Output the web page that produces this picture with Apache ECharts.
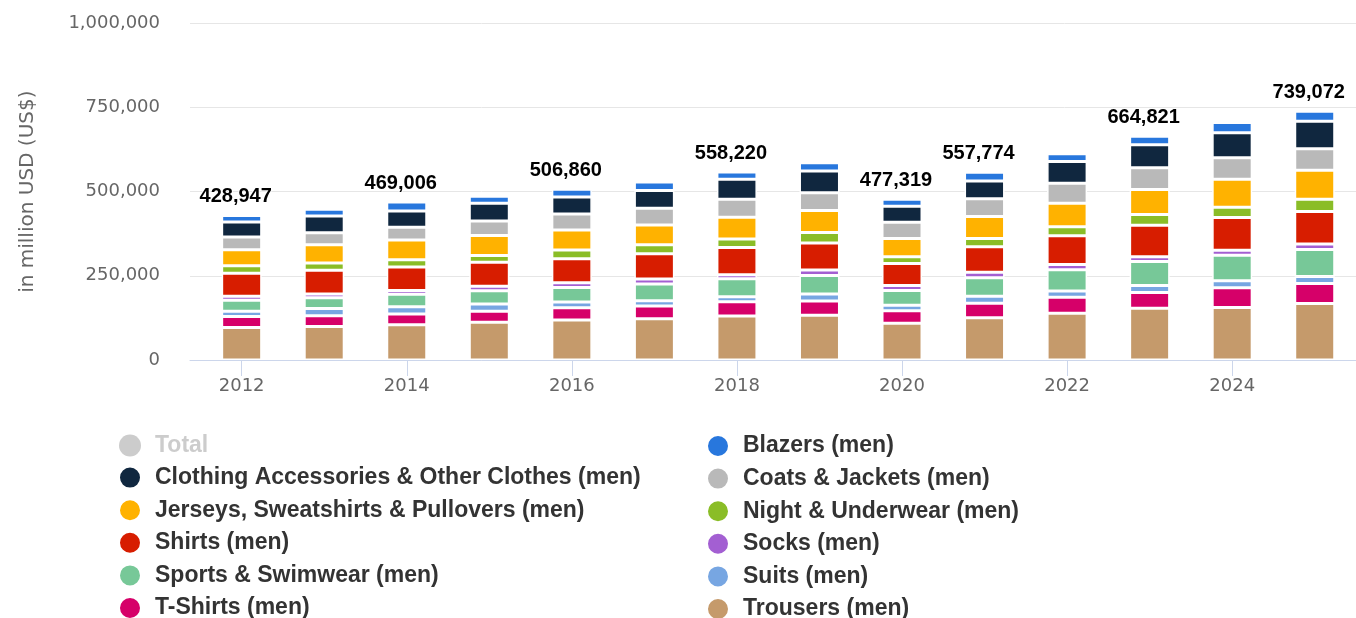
<!DOCTYPE html>
<html>
<head>
<meta charset="utf-8">
<script src="https://cdn.jsdelivr.net/npm/echarts@6/dist/echarts.min.js"></script>
<style>
  html, body { margin: 0; padding: 0; background: #fff; }
  #chart { width: 1356px; height: 618px; }
</style>
</head>
<body>
<div id="chart"></div>
<script>
// Men's apparel revenue by segment, in million USD
const years = ['2012', '2013', '2014', '2015', '2016', '2017', '2018', '2019', '2020', '2021', '2022', '2023', '2024', '2025'];
const labelledYears = ['2012', '2014', '2016', '2018', '2020', '2021', '2023', '2025'];
const yTicks = [0, 250000, 500000, 750000, 1000000];

const blazers  = [19100, 19800, 26800, 20800, 22900, 25700, 21200, 24800, 20800, 25800, 23300, 25800, 30300, 29800];
const clothing = [44300, 49600, 47600, 52700, 50300, 52800, 59300, 64600, 47300, 53300, 64200, 68200, 74200, 81700];
const coats    = [38300, 36200, 38100, 42800, 47200, 49600, 53800, 52700, 48700, 52600, 59700, 64300, 64200, 64200];
const jerseys  = [47300, 53800, 58400, 59600, 59800, 58300, 64300, 65300, 53800, 65200, 69800, 74200, 82700, 85700];
const night    = [22200, 21300, 21600, 20300, 25700, 26600, 25400, 31200, 20400, 24800, 26900, 32300, 30800, 36300];
const shirts   = [68500, 70900, 70200, 71400, 71600, 75400, 80800, 79800, 65300, 75700, 85200, 93200, 96700, 97200];
const socks    = [12100, 11400, 11000, 12800, 13800, 14700, 12100, 16600, 14800, 16300, 15300, 14400, 15400, 16300];
const sports   = [32200, 31700, 36900, 39300, 43300, 49500, 53400, 54800, 43400, 54600, 63700, 70800, 75200, 79700];
const suits    = [16100, 21200, 21900, 21800, 17100, 15600, 15200, 20700, 16300, 20800, 18200, 21300, 21400, 20900];
const tshirts  = [32200, 32300, 32100, 32600, 36400, 37900, 41900, 42300, 37300, 43200, 47800, 46900, 58700, 59300];
const trousers = [96647, 99400, 104406, 112200, 118760, 122800, 130820, 133100, 109219, 125474, 138600, 153421, 155600, 167972];

// stacking order, bottom to top
const segments = [
  { name: 'Trousers (men)', values: trousers, color: '#c59a6b' },
  { name: 'T-Shirts (men)', values: tshirts, color: '#d60069' },
  { name: 'Suits (men)', values: suits, color: '#77a6e2' },
  { name: 'Sports & Swimwear (men)', values: sports, color: '#77c898' },
  { name: 'Socks (men)', values: socks, color: '#a35fd2' },
  { name: 'Shirts (men)', values: shirts, color: '#d71d00' },
  { name: 'Night & Underwear (men)', values: night, color: '#8abd27' },
  { name: 'Jerseys, Sweatshirts & Pullovers (men)', values: jerseys, color: '#ffb200' },
  { name: 'Coats & Jackets (men)', values: coats, color: '#b9b9b9' },
  { name: 'Clothing Accessories & Other Clothes (men)', values: clothing, color: '#10273f' },
  { name: 'Blazers (men)', values: blazers, color: '#2877dd' }
];

const totals = years.map((y, i) => segments.reduce((s, seg) => s + seg.values[i], 0));

function withCommas(v) {
  return String(Math.round(v)).replace(/\B(?=(\d{3})+(?!\d))/g, ',');
}

const series = segments.map((seg, k) => {
  const isTop = k === segments.length - 1;
  return {
    name: seg.name,
    type: 'bar',
    stack: 'men',
    xAxisIndex: 1,
    yAxisIndex: 1,
    barWidth: 40,
    data: seg.values,
    itemStyle: { color: seg.color, borderColor: '#ffffff', borderWidth: 1.5 },
    emphasis: { disabled: true },
    label: isTop ? {
      show: true,
      position: 'top',
      distance: 9,
      offset: [-6, 0],
      formatter: p => labelledYears.includes(years[p.dataIndex]) ? withCommas(totals[p.dataIndex]) : '',
      fontFamily: 'Liberation Sans',
      fontWeight: 'bold',
      fontSize: 20,
      color: '#000000',
      textBorderColor: '#ffffff',
      textBorderWidth: 2
    } : { show: false }
  };
});

series.push({
  name: 'Total',
  type: 'line',
  xAxisIndex: 1,
  yAxisIndex: 1,
  data: totals,
  symbol: 'none',
  itemStyle: { color: '#cccccc' },
  lineStyle: { width: 0 }
});

const legendText = {
  fontFamily: 'Liberation Sans',
  fontWeight: 'bold',
  fontSize: 23,
  lineHeight: 22,
  color: '#333333'
};

const legendBase = {
  orient: 'vertical',
  top: 434,
  height: 200,
  padding: [0, 5, 0, 5],
  icon: 'circle',
  itemWidth: 40,
  itemHeight: 22,
  itemGap: 8.6,
  inactiveColor: '#cccccc',
  textStyle: legendText,
  selected: { 'Total': false }
};

const chart = echarts.init(document.getElementById('chart'), null, { renderer: 'canvas' });
chart.setOption({
  animation: false,
  backgroundColor: '#ffffff',
  grid: [
    // frame: value scale, gridlines and baseline
    { left: 190, right: 0, top: 23.3, bottom: 258 },
    // columns
    { left: 200.4, right: 0, top: 23.3, bottom: 258 }
  ],
  xAxis: [
    {
      gridIndex: 0,
      type: 'value',
      min: 0,
      max: 1,
      splitLine: { show: false },
      axisLine: { show: true, lineStyle: { color: '#ccd6eb', width: 1 } },
      axisTick: { show: false },
      axisLabel: { show: false }
    },
    {
      gridIndex: 1,
      type: 'category',
      data: years,
      axisLine: { show: false },
      axisTick: { show: true, interval: 1, alignWithLabel: true, length: 16, lineStyle: { color: '#ccd6eb' } },
      axisLabel: {
        interval: 1,
        margin: 17,
        fontFamily: 'DejaVu Sans',
        fontSize: 18,
        color: '#666666'
      }
    }
  ],
  yAxis: [
    {
      gridIndex: 0,
      type: 'value',
      min: 0,
      max: 1000000,
      interval: 250000,
      name: 'in million USD (US$)',
      nameLocation: 'middle',
      nameGap: 152,
      nameTextStyle: { fontFamily: 'DejaVu Sans', fontSize: 20, color: '#666666' },
      axisLine: { show: false },
      axisTick: { show: false },
      splitLine: { lineStyle: { color: '#e6e6e6', width: 1 } },
      axisLabel: {
        formatter: v => yTicks.includes(v) ? withCommas(v) : '',
        margin: 30,
        fontFamily: 'DejaVu Sans',
        fontSize: 18,
        color: '#666666'
      }
    },
    {
      gridIndex: 1,
      type: 'value',
      min: 0,
      max: 1000000,
      interval: 250000,
      show: false,
      splitLine: { show: false }
    }
  ],
  legend: [
    Object.assign({}, legendBase, {
      left: 113,
      data: ['Total', 'Clothing Accessories & Other Clothes (men)', 'Jerseys, Sweatshirts & Pullovers (men)',
             'Shirts (men)', 'Sports & Swimwear (men)', 'T-Shirts (men)']
    }),
    Object.assign({}, legendBase, {
      left: 701,
      data: ['Blazers (men)', 'Coats & Jackets (men)', 'Night & Underwear (men)',
             'Socks (men)', 'Suits (men)', 'Trousers (men)']
    })
  ],
  series: series
});
</script>
</body>
</html>
